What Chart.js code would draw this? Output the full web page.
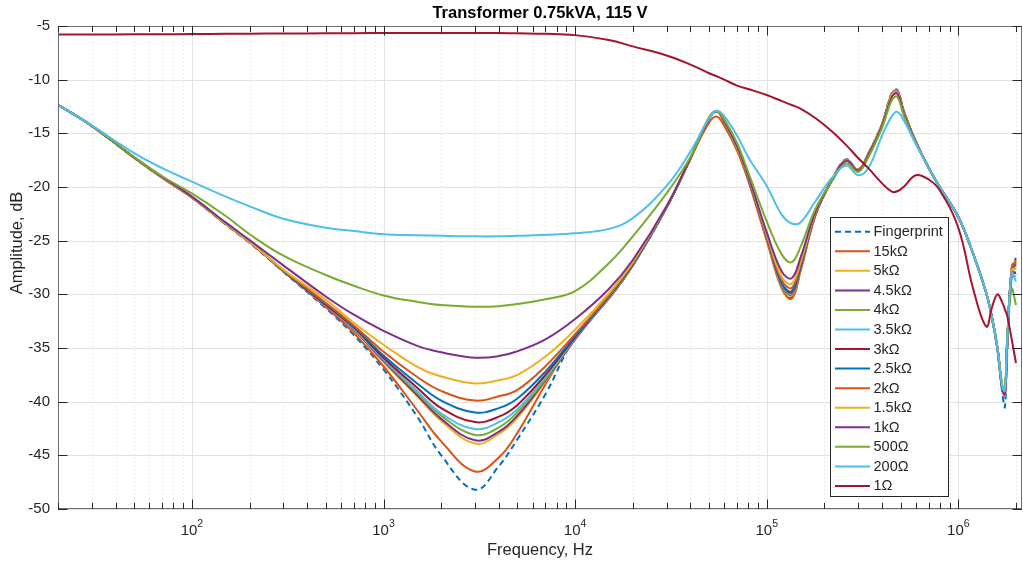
<!DOCTYPE html>
<html><head><meta charset="utf-8">
<script src="https://cdn.jsdelivr.net/npm/chart.js@4.4.1/dist/chart.umd.min.js"></script>
<style>html,body{margin:0;padding:0;background:#fff}#wrap{width:1023px;height:567px}</style>
</head><body><div id="wrap"><canvas id="c" width="1023" height="567"></canvas></div>
<script>
// ---------- data ----------
const chartTitle = 'Transformer 0.75kVA, 115 V';
const xAxisTitle = 'Frequency, Hz';
const yAxisTitle = 'Amplitude, dB';
const xMajorTicks = [100, 1000, 10000, 100000, 1000000];
const xMajorExponents = ['2', '3', '4', '5', '6'];
const yTickValues = [-50, -45, -40, -35, -30, -25, -20, -15, -10, -5];

const freqHz = [20,30,50,70,100,150,200,300,500,700,1000,1500,2000,3000,4000,5000,7000,10000,15000,20000,30000,40000,50000,55000,60000,70000,80000,100000,120000,135000,150000,180000,220000,260000,300000,340000,400000,450000,480000,520000,600000,700000,800000,1000000,1200000,1400000,1500000,1600000,1700000,1750000,1800000,1900000,2000000];

const seriesNames = ['Fingerprint','15kΩ','5kΩ','4.5kΩ','4kΩ','3.5kΩ','3kΩ','2.5kΩ','2kΩ','1.5kΩ','1kΩ','500Ω','200Ω','1Ω'];

const fingerprint = [-12.35,-14.3,-17.3,-19.15,-21.0,-23.5,-25.2,-27.9,-31.3,-33.8,-37.0,-41.4,-45.0,-48.2,-46.0,-43.5,-39.3,-34.0,-30.4,-27.3,-21.9,-17.3,-13.6,-12.9,-13.85,-16.3,-19.1,-24.7,-29.4,-30.3,-27.8,-22.6,-19.3,-17.4,-18.4,-16.8,-14.1,-11.2,-10.95,-12.9,-15.8,-18.2,-20.0,-22.8,-26.3,-29.9,-32.3,-35.3,-39.3,-40.5,-35.5,-27.5,-26.6];
const r15k = [-12.35,-14.3,-17.3,-19.15,-21.0,-23.45,-25.15,-27.85,-31.2,-33.6,-36.7,-40.8,-43.7,-46.5,-45.2,-42.9,-38.4,-34.0,-30.4,-27.3,-21.9,-17.35,-14.0,-13.45,-14.3,-16.6,-19.4,-25.0,-29.5,-30.4,-27.9,-22.6,-19.35,-17.5,-18.4,-16.9,-14.2,-11.3,-11.05,-13.0,-15.8,-18.2,-20.0,-22.8,-26.3,-29.9,-32.2,-35.1,-39.0,-39.5,-34.8,-27.6,-26.8];
const r5k = [-12.35,-14.3,-17.25,-19.1,-20.95,-23.4,-25.1,-27.8,-31.1,-33.3,-36.3,-39.5,-41.8,-43.9,-43.0,-41.5,-38.1,-34.2,-30.3,-27.3,-21.9,-17.35,-13.6,-12.95,-13.9,-16.3,-19.1,-24.7,-29.3,-30.1,-27.7,-22.5,-19.3,-17.45,-18.4,-16.85,-14.15,-11.3,-11.0,-13.0,-15.8,-18.2,-20.0,-22.8,-26.3,-29.9,-32.2,-35.0,-38.9,-39.4,-34.5,-27.7,-27.0];
const r4_5k = [-12.35,-14.3,-17.25,-19.1,-20.95,-23.4,-25.1,-27.8,-31.1,-33.3,-36.2,-39.4,-41.6,-43.6,-42.8,-41.3,-38.0,-34.2,-30.3,-27.3,-21.9,-17.35,-13.6,-12.95,-13.9,-16.3,-19.1,-24.6,-29.2,-30.0,-27.6,-22.5,-19.3,-17.5,-18.4,-16.9,-14.2,-11.35,-11.05,-13.0,-15.8,-18.2,-20.0,-22.8,-26.3,-29.9,-32.2,-35.0,-38.9,-39.3,-34.5,-27.9,-27.5];
const r4k = [-12.35,-14.3,-17.25,-19.1,-20.95,-23.4,-25.1,-27.8,-31.05,-33.25,-36.1,-39.2,-41.3,-43.1,-42.4,-41.0,-37.9,-34.1,-30.3,-27.3,-21.9,-17.35,-13.6,-12.95,-13.9,-16.3,-19.1,-24.6,-29.1,-29.9,-27.5,-22.5,-19.3,-17.5,-18.4,-16.9,-14.2,-11.4,-11.1,-13.05,-15.8,-18.2,-20.0,-22.8,-26.3,-29.9,-32.2,-35.0,-38.9,-39.3,-34.5,-28.2,-28.0];
const r3_5k = [-12.35,-14.3,-17.25,-19.1,-20.95,-23.4,-25.1,-27.8,-31.05,-33.2,-36.0,-39.0,-41.1,-42.55,-41.9,-40.7,-37.7,-34.1,-30.25,-27.25,-21.9,-17.35,-13.6,-12.95,-13.9,-16.3,-19.1,-24.6,-29.1,-29.9,-27.5,-22.5,-19.3,-17.5,-18.4,-16.9,-14.2,-11.4,-11.1,-13.05,-15.8,-18.2,-20.0,-22.8,-26.3,-29.9,-32.2,-35.0,-38.9,-39.3,-34.5,-28.4,-28.3];
const r3k = [-12.35,-14.3,-17.25,-19.1,-20.95,-23.4,-25.1,-27.8,-31.0,-33.1,-35.9,-38.7,-40.6,-41.9,-41.4,-40.3,-37.5,-34.0,-30.2,-27.2,-21.9,-17.35,-13.6,-12.95,-13.9,-16.3,-19.1,-24.6,-29.0,-29.8,-27.45,-22.5,-19.3,-17.5,-18.4,-16.9,-14.2,-11.4,-11.1,-13.05,-15.8,-18.2,-20.0,-22.8,-26.3,-29.9,-32.2,-35.0,-38.9,-39.3,-34.5,-28.0,-28.0];
const r2_5k = [-12.35,-14.3,-17.25,-19.1,-20.95,-23.4,-25.1,-27.8,-30.9,-33.0,-35.7,-38.3,-39.9,-41.0,-40.6,-39.7,-37.2,-33.9,-30.2,-27.2,-21.9,-17.35,-13.6,-12.95,-13.9,-16.3,-19.1,-24.6,-29.0,-29.7,-27.4,-22.5,-19.3,-17.5,-18.4,-16.9,-14.2,-11.4,-11.15,-13.1,-15.8,-18.2,-20.0,-22.8,-26.3,-29.9,-32.2,-35.0,-38.9,-39.3,-34.5,-27.8,-27.2];
const r2k = [-12.35,-14.3,-17.25,-19.1,-20.95,-23.4,-25.1,-27.75,-30.8,-32.9,-35.35,-37.7,-39.0,-39.9,-39.5,-38.9,-36.7,-33.7,-30.1,-27.1,-21.85,-17.35,-13.6,-12.95,-13.9,-16.3,-19.05,-24.5,-28.7,-29.4,-27.2,-22.5,-19.3,-17.5,-18.4,-16.9,-14.2,-11.4,-11.15,-13.1,-15.8,-18.2,-20.0,-22.8,-26.3,-29.9,-32.2,-35.0,-38.9,-39.3,-34.5,-27.6,-27.0];
const r1_5k = [-12.35,-14.3,-17.25,-19.1,-20.95,-23.4,-25.1,-27.7,-30.5,-32.65,-34.7,-36.75,-37.65,-38.3,-38.0,-37.5,-35.8,-33.3,-29.9,-27.0,-21.8,-17.35,-13.6,-12.95,-13.9,-16.3,-19.0,-24.4,-28.4,-29.0,-27.0,-22.4,-19.3,-17.5,-18.4,-16.9,-14.2,-11.4,-11.15,-13.1,-15.8,-18.2,-20.0,-22.8,-26.3,-29.9,-32.2,-35.0,-38.9,-39.3,-34.5,-27.8,-27.5];
const r1k = [-12.35,-14.3,-17.25,-19.05,-20.9,-23.3,-24.95,-27.3,-30.2,-31.9,-33.4,-34.8,-35.4,-35.9,-35.75,-35.3,-34.2,-32.3,-29.5,-26.8,-21.8,-17.3,-13.6,-12.95,-13.85,-16.2,-18.9,-24.2,-27.9,-28.5,-26.6,-22.3,-19.3,-17.55,-18.45,-17.0,-14.3,-11.6,-11.3,-13.2,-15.8,-18.2,-20.0,-22.8,-26.3,-29.9,-32.2,-35.0,-38.9,-39.3,-34.5,-28.0,-28.0];
const r500 = [-12.35,-14.3,-17.2,-19.0,-20.6,-22.7,-24.4,-26.4,-28.2,-29.2,-30.1,-30.7,-31.0,-31.15,-31.1,-30.9,-30.45,-29.7,-27.1,-24.6,-20.6,-17.2,-13.5,-12.95,-13.7,-15.9,-18.6,-23.2,-26.3,-27.0,-25.6,-22.0,-19.4,-17.8,-18.6,-17.2,-14.5,-11.9,-11.6,-13.4,-15.9,-18.2,-20.0,-22.8,-26.3,-29.9,-32.2,-34.9,-38.5,-38.8,-34.0,-29.5,-31.0];
const r200 = [-12.35,-14.25,-16.85,-18.25,-19.5,-20.9,-21.8,-22.95,-23.8,-24.1,-24.4,-24.5,-24.55,-24.6,-24.6,-24.55,-24.45,-24.3,-23.9,-22.9,-19.9,-16.7,-13.6,-12.9,-13.4,-15.2,-17.2,-19.9,-22.6,-23.4,-23.3,-21.3,-19.1,-18.0,-18.9,-18.2,-15.2,-13.4,-13.0,-13.8,-16.0,-18.2,-20.0,-22.8,-26.3,-29.9,-32.2,-35.0,-38.7,-39.0,-34.2,-28.0,-28.8];
const r1 = [-5.8,-5.8,-5.78,-5.77,-5.75,-5.73,-5.72,-5.7,-5.68,-5.67,-5.65,-5.65,-5.65,-5.65,-5.66,-5.68,-5.72,-5.85,-6.3,-6.9,-7.75,-8.6,-9.4,-9.7,-10.0,-10.55,-10.87,-11.43,-12.0,-12.36,-12.7,-13.6,-14.85,-16.1,-17.3,-18.27,-19.66,-20.44,-20.4,-19.97,-18.9,-19.3,-20.3,-23.8,-29.6,-33.0,-31.2,-30.0,-30.8,-31.4,-32.0,-34.2,-36.4];

const seriesValues = [fingerprint, r15k, r5k, r4_5k, r4k, r3_5k, r3k, r2_5k, r2k, r1_5k, r1k, r500, r200, r1];
const seriesColors = ['#0072BD','#D95319','#EDB120','#7E2F8E','#77AC30','#4DBEEE','#A2142F','#0072BD','#D95319','#EDB120','#7E2F8E','#77AC30','#4DBEEE','#A2142F'];

// ---------- chart ----------
const FONT = "'Liberation Sans', Arial, Helvetica, sans-serif";
const TXT = '#262626';

function isMajor(v){ return xMajorTicks.some(m => Math.abs(v - m) / m < 1e-9); }

const matlabFrame = {
  id: 'matlabFrame',
  beforeDatasetsDraw(chart) {
    const {ctx, chartArea: a, scales: {x, y}} = chart;
    ctx.save();
    ctx.lineWidth = 1;
    ctx.strokeStyle = 'rgba(0,0,0,0.15)';
    ctx.setLineDash([1, 3]);
    x.ticks.forEach(t => {
      if (isMajor(t.value)) return;
      const px = Math.round(x.getPixelForValue(t.value)) + 0.5;
      ctx.beginPath(); ctx.moveTo(px, a.top); ctx.lineTo(px, a.bottom); ctx.stroke();
    });
    ctx.setLineDash([]);
    ctx.strokeStyle = '#e2e2e2';
    xMajorTicks.forEach(v => {
      const px = Math.round(x.getPixelForValue(v)) + 0.5;
      ctx.beginPath(); ctx.moveTo(px, a.top); ctx.lineTo(px, a.bottom); ctx.stroke();
    });
    y.ticks.forEach(t => {
      const py = Math.round(y.getPixelForValue(t.value)) + 0.5;
      ctx.beginPath(); ctx.moveTo(a.left, py); ctx.lineTo(a.right, py); ctx.stroke();
    });
    ctx.restore();
  },
  afterDatasetsDraw(chart) {
    const {ctx, chartArea: a, scales: {x, y}} = chart;
    ctx.save();
    ctx.strokeStyle = '#6e6e6e';
    ctx.lineWidth = 1;
    ctx.strokeRect(Math.round(a.left) + 0.5, Math.round(a.top) + 0.5, Math.round(a.right - a.left) - 1, Math.round(a.bottom - a.top) - 1);
    ctx.strokeStyle = TXT;
    x.ticks.forEach(t => {
      const px = Math.round(x.getPixelForValue(t.value)) + 0.5;
      const len = isMajor(t.value) ? 9.5 : 6;
      ctx.beginPath();
      ctx.moveTo(px, a.bottom); ctx.lineTo(px, a.bottom - len);
      ctx.moveTo(px, a.top); ctx.lineTo(px, a.top + len);
      ctx.stroke();
    });
    y.ticks.forEach(t => {
      const py = Math.round(y.getPixelForValue(t.value)) + 0.5;
      ctx.beginPath();
      ctx.moveTo(a.left, py); ctx.lineTo(a.left + 9.5, py);
      ctx.moveTo(a.right, py); ctx.lineTo(a.right - 9.5, py);
      ctx.stroke();
    });
    // x tick labels 10^n
    ctx.fillStyle = TXT;
    ctx.textBaseline = 'alphabetic';
    xMajorTicks.forEach((v, i) => {
      const px = x.getPixelForValue(v);
      ctx.font = '15px ' + FONT;
      const wb = ctx.measureText('10').width;
      ctx.font = '10.5px ' + FONT;
      const we = ctx.measureText(xMajorExponents[i]).width;
      const left = px - (wb + we) / 2;
      ctx.font = '15px ' + FONT;
      ctx.textAlign = 'left';
      ctx.fillText('10', left, 535);
      ctx.font = '10.5px ' + FONT;
      ctx.fillText(xMajorExponents[i], left + wb, 527);
    });
    // y axis title
    ctx.save();
    ctx.translate(17, 243);
    ctx.rotate(-Math.PI / 2);
    ctx.font = '16.5px ' + FONT;
    ctx.textAlign = 'center';
    ctx.textBaseline = 'middle';
    ctx.fillStyle = TXT;
    ctx.fillText(yAxisTitle, 0, 0);
    ctx.restore();
    // title
    ctx.font = 'bold 16.5px ' + FONT;
    ctx.textAlign = 'center';
    ctx.textBaseline = 'middle';
    ctx.fillStyle = '#000';
    ctx.fillText(chartTitle, (a.left + a.right) / 2, 13);
    // legend
    const lx = 830.5, ly = 217.5, lw = 118, lh = 279;
    ctx.fillStyle = '#fff';
    ctx.fillRect(lx, ly, lw, lh);
    ctx.strokeStyle = '#262626';
    ctx.lineWidth = 1;
    ctx.strokeRect(lx, ly, lw, lh);
    ctx.font = '14.5px ' + FONT;
    ctx.textAlign = 'left';
    chart.data.datasets.forEach((ds, i) => {
      const yy = 231.7 + i * 19.56;
      ctx.strokeStyle = ds.borderColor;
      ctx.lineWidth = 2;
      ctx.setLineDash(ds.borderDash || []);
      ctx.beginPath(); ctx.moveTo(835, yy); ctx.lineTo(870, yy); ctx.stroke();
      ctx.setLineDash([]);
      ctx.fillStyle = TXT;
      ctx.fillText(ds.label, 873.5, yy + 0.5);
    });
    ctx.restore();
  }
};

const N = seriesNames.length;
const datasets = seriesNames.map((name, i) => ({
  label: name,
  data: freqHz.map((f, j) => ({x: f, y: seriesValues[i][j]})),
  borderColor: seriesColors[i],
  backgroundColor: seriesColors[i],
  borderWidth: 2,
  borderDash: i === 0 ? [6, 4] : [],
  pointRadius: 0,
  fill: false,
  tension: 0.4,
  order: N - i
}));

new Chart(document.getElementById('c'), {
  type: 'line',
  data: {datasets},
  plugins: [matlabFrame],
  options: {
    responsive: false,
    animation: false,
    devicePixelRatio: 1,
    layout: {padding: {top: 26, right: 1, left: 0, bottom: 0}},
    plugins: {legend: {display: false}, title: {display: false}, tooltip: {enabled: false}},
    scales: {
      x: {
        type: 'logarithmic', min: 20, max: 2.15e6,
        grid: {display: false}, border: {display: false},
        ticks: {display: false, autoSkip: false},
        title: {display: true, text: xAxisTitle, color: TXT, font: {size: 16.5, family: FONT}, padding: {top: 0, bottom: 7}},
        afterBuildTicks(scale) {
          const t = [];
          for (let d = 10; d <= 1e6; d *= 10) {
            for (let m = 1; m <= 9; m++) {
              const v = m * d;
              if (v >= 20 && v <= 2.15e6) t.push({value: v});
            }
          }
          scale.ticks = t;
        },
        afterFit(scale) { scale.height = 58; }
      },
      y: {
        type: 'linear', min: -50, max: -5,
        grid: {display: false, drawTicks: false}, border: {display: false},
        afterBuildTicks(scale) { scale.ticks = yTickValues.map(v => ({value: v})); },
        ticks: {padding: 8, color: TXT, font: {size: 15, family: FONT}},
        afterFit(scale) { scale.width = 58; }
      }
    }
  }
});
</script>
</body></html>
